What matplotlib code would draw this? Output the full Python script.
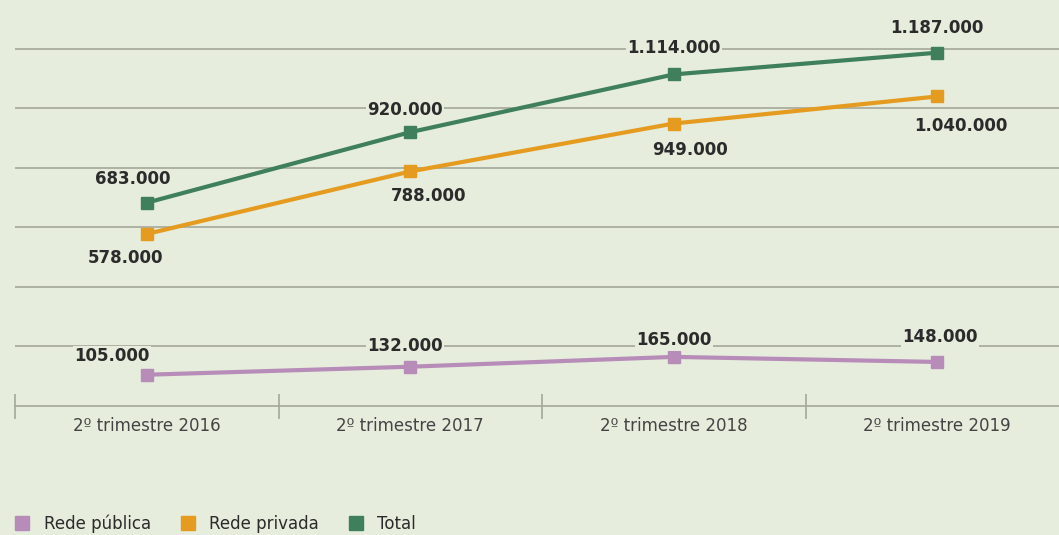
import matplotlib.pyplot as plt
from matplotlib.lines import Line2D

# dados: matrículas por trimestre
periodos = ['2º trimestre 2016', '2º trimestre 2017', '2º trimestre 2018', '2º trimestre 2019']
rede_publica = [105000, 132000, 165000, 148000]
rede_privada = [578000, 788000, 949000, 1040000]
total = [683000, 920000, 1114000, 1187000]

fundo = '#e6eddd'
cor_pub = '#b78cb8'
cor_priv = '#e59b1f'
cor_tot = '#3f7f5b'
cor_grade = '#a3a89a'
cor_texto = '#2b2b2b'

def fmt(v):
    return f'{v:,}'.replace(',', '.')

fig = plt.figure(figsize=(10.59, 5.35), dpi=100, facecolor=fundo)
ax = fig.add_axes([15 / 1059, 1 - 406 / 535, 1054 / 1059, 406 / 535])
ax.set_facecolor(fundo)

x = range(len(periodos))
ax.set_xlim(-0.5, 3.5)
ax.set_ylim(0, 1364000)

for v in range(200000, 1300000, 200000):
    ax.axhline(v, color=cor_grade, lw=1.2, zorder=1)

series = [(rede_publica, cor_pub), (rede_privada, cor_priv), (total, cor_tot)]
for vals, cor in series:
    ax.plot(x, vals, color=cor, lw=3, marker='s', markersize=9, zorder=3)

# deslocamento dos rótulos (pontos)
desl_tot = [(-10, 17), (-4, 16), (0, 19), (0, 18)]
desl_priv = [(-15, -17), (13, -18), (12, -19), (17, -21)]
desl_pub = [(-25, 13.5), (-4, 15), (0, 12), (2, 18)]

for vals, desl in [(total, desl_tot), (rede_privada, desl_priv), (rede_publica, desl_pub)]:
    for i, v in enumerate(vals):
        ax.annotate(fmt(v), (i, v), xytext=desl[i], textcoords='offset points',
                    ha='center', va='center', fontsize=12, fontweight='bold',
                    color=cor_texto, zorder=4,
                    bbox=dict(boxstyle='square,pad=0.08', fc=fundo, ec='none'))

for s in ['top', 'right', 'left']:
    ax.spines[s].set_visible(False)
ax.spines['bottom'].set_color(cor_grade)
ax.spines['bottom'].set_linewidth(1.2)

ax.set_yticks([])
ax.set_xticks(list(x))
ax.set_xticklabels(periodos, fontsize=12, color='#444444')
ax.tick_params(axis='x', which='major', length=0, pad=8)
ax.set_xticks([-0.5, 0.5, 1.5, 2.5, 3.5], minor=True)
ax.tick_params(axis='x', which='minor', direction='inout', length=18,
               width=1.2, color=cor_grade)

handles = [Line2D([], [], ls='none', marker='s', markersize=10, color=c)
           for c in (cor_pub, cor_priv, cor_tot)]
fig.legend(handles, ['Rede pública', 'Rede privada', 'Total'], loc='lower left',
           bbox_to_anchor=(-0.009, -0.024), ncol=3, frameon=False, fontsize=12,
           handletextpad=0.3, columnspacing=1.2, labelcolor=cor_texto)

fig.savefig('out.png', dpi=100, facecolor=fundo)
